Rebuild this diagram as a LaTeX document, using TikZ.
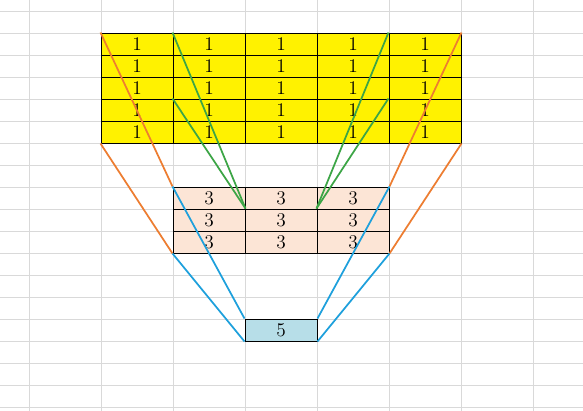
\documentclass[tikz,border=0pt]{standalone}
\usepackage{tikz}

\definecolor{gridgray}{RGB}{217,217,217}
\definecolor{sumorange}{RGB}{237,125,49}
\definecolor{sumgreen}{RGB}{60,165,70}
\definecolor{sumblue}{RGB}{30,160,220}
\definecolor{peach}{RGB}{252,229,214}
\definecolor{paleblue}{RGB}{183,222,232}

\tikzset{
  sheetline/.style={gridgray, line width=0.75pt},
  cellbox/.style={draw=black, line width=0.75pt, minimum width=54pt, minimum height=16.5pt,
    inner sep=0pt, font=\fontsize{14.5}{14.5}\selectfont},
  onecell/.style={cellbox, fill=yellow},
  threecell/.style={cellbox, fill=peach},
  fivecell/.style={cellbox, fill=paleblue},
  sumline/.style={line width=1.3pt}
}

\begin{document}
\begin{tikzpicture}[x=0.75pt, y=-0.75pt]
\useasboundingbox (0, 0) rectangle (583, 411);
\fill[white] (0, 0) rectangle (583, 411);
% spreadsheet grid
\foreach \x in {29, 101, ..., 533}
  \draw[sheetline] (\x, 0) -- (\x, 411);
\foreach \y in {11, 33, ..., 407}
  \draw[sheetline] (0, \y) -- (583, \y);
% tables
\foreach \r in {1, ..., 5}
  \foreach \c in {1, ..., 5}
    \node[onecell] (a\r\c) at ({65+72*\c}, {22*\r+22}) {1};
\foreach \r in {1, ..., 3}
  \foreach \c in {1, ..., 3}
    \node[threecell] (b\r\c) at ({137+72*\c}, {22*\r+176}) {3};
\node[fivecell] (c) at (281, 330) {5};
% connectors
\draw[sumline, sumorange] (a11.north west) -- (b11.north west);
\draw[sumline, sumorange] (a51.south west) -- (b31.south west);
\draw[sumline, sumorange] (a15.north east) -- (b13.north east);
\draw[sumline, sumorange] (a55.south east) -- (b33.south east);
\draw[sumline, sumgreen] (a12.north west) -- (b21.north east);
\draw[sumline, sumgreen] (a42.north west) -- (b21.north east);
\draw[sumline, sumgreen] (a15.north west) -- (b23.north west);
\draw[sumline, sumgreen] (a45.north west) -- (b23.north west);
\draw[sumline, sumblue] (b11.north west) -- (c.north west);
\draw[sumline, sumblue] (b31.south west) -- (c.south west);
\draw[sumline, sumblue] (b13.north east) -- (c.north east);
\draw[sumline, sumblue] (b33.south east) -- (c.south east);
\end{tikzpicture}
\end{document}
